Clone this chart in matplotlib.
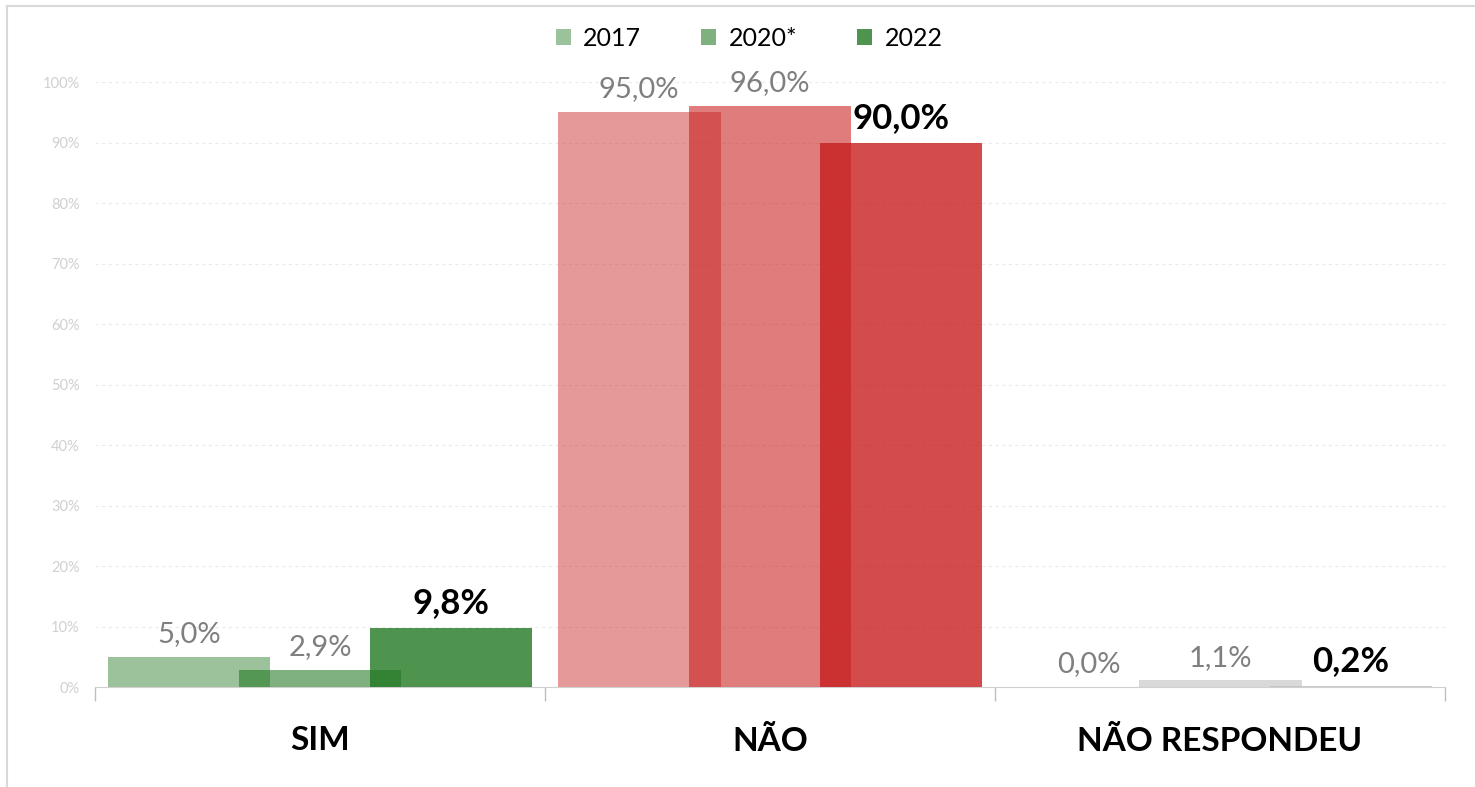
import numpy as np
import matplotlib.pyplot as plt
from matplotlib.lines import Line2D
from matplotlib.patches import Patch

plt.rcParams['font.family'] = ['Lato', 'DejaVu Sans']

# Dados
categorias = ['SIM', 'NÃO', 'NÃO RESPONDEU']
anos = ['2017', '2020*', '2022']
v2017 = [5.0, 95.0, 0.0]
v2020 = [2.9, 96.0, 1.1]
v2022 = [9.8, 90.0, 0.2]
series = [v2017, v2020, v2022]

cores_base = ['#227822', '#C81E1E', '#BFBFBF']
alphas = [0.45, 0.58, 0.80]

fig = plt.figure(figsize=(14.75, 7.87), dpi=100)
ax = fig.add_axes([0.0644, 0.127, 0.9153, 0.7688])

x = np.arange(len(categorias))
desloc = 0.291
largura = 0.362

for i, vals in enumerate(series):
    pos = x + (i - 1) * desloc
    for j, v in enumerate(vals):
        ax.bar(pos[j], v / 100, width=largura, color=cores_base[j],
               alpha=alphas[i], linewidth=0, zorder=2 + i)
        texto = f'{v:.1f}%'.replace('.', ',')
        if i == 2:
            ax.annotate(texto, (pos[j], v / 100), xytext=(0, 6),
                        textcoords='offset points', ha='center', va='bottom',
                        fontsize=25, fontweight='bold', color='black',
                        annotation_clip=False, zorder=10)
        else:
            ax.annotate(texto, (pos[j], v / 100), xytext=(0, 7),
                        textcoords='offset points', ha='center', va='bottom',
                        fontsize=21, color='#7f7f7f',
                        annotation_clip=False, zorder=10)

ax.set_xlim(-0.5, 2.5)
ax.set_ylim(0, 1.0)
ax.set_yticks(np.arange(0, 1.01, 0.1))
ax.set_yticklabels([f'{int(t * 100)}%' for t in np.arange(0, 1.01, 0.1)],
                   fontsize=10.5, color='#d0d0d0')
ax.tick_params(axis='y', length=0, pad=11)
ax.yaxis.grid(True, linestyle=(0, (3, 3)), color='#ebebeb', linewidth=0.8)
ax.set_axisbelow(True)

ax.set_xticks(x)
ax.set_xticklabels(categorias, fontsize=24, fontweight='bold')
ax.tick_params(axis='x', length=0, pad=28)
ax.set_xticks([-0.5, 0.5, 1.5, 2.5], minor=True)
ax.tick_params(axis='x', which='minor', length=10, color='#bfbfbf', width=1)

for s in ['top', 'right', 'left']:
    ax.spines[s].set_visible(False)
ax.spines['bottom'].set_color('#d0d0d0')

handles = [Patch(facecolor=cores_base[0], alpha=a) for a in alphas]
fig.legend(handles, anos, loc='center', bbox_to_anchor=(0.508, 0.951),
           ncol=3, frameon=False, fontsize=18, handlelength=0.6,
           handleheight=0.6, columnspacing=2.4, handletextpad=0.5)

# moldura
fig.add_artist(Line2D([0.0047, 0.0047], [0.0, 0.9925], color='#d9d9d9', lw=1.5))
fig.add_artist(Line2D([0.0047, 1.0], [0.9925, 0.9925], color='#d9d9d9', lw=1.5))

fig.savefig('out.png', dpi=100)
